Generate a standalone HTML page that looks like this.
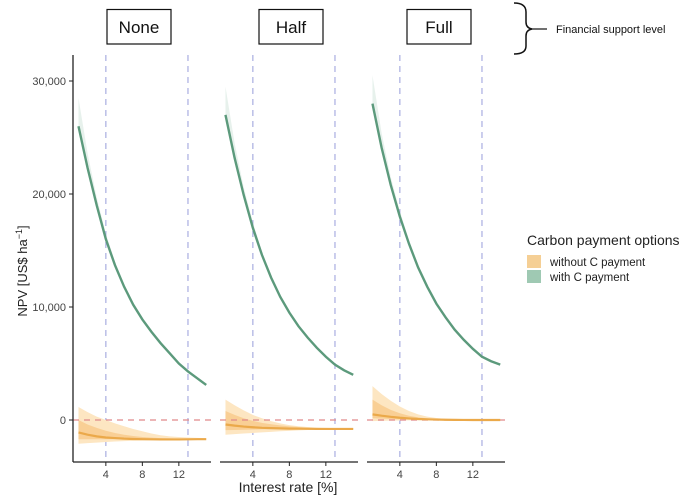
<!DOCTYPE html>
<html><head><meta charset="utf-8"><style>
body{margin:0;background:#fff;font-family:"Liberation Sans",sans-serif;}
svg{display:block}
</style></head><body>
<svg id="chart" width="700" height="502" xmlns="http://www.w3.org/2000/svg">
<g id="strips"></g>
<g id="plot"></g>
<g id="axes"></g>
<g><text transform="translate(27,271) rotate(-90)" text-anchor="middle" font-size="13" fill="#222">NPV [US$ ha<tspan font-size="9" dy="-5">−1</tspan><tspan dy="5">]</tspan></text></g>
<text x="288" y="492" text-anchor="middle" font-size="14" fill="#222">Interest rate [%]</text>
<g>
<text x="527" y="245" font-size="14" fill="#222">Carbon payment options</text>
<rect x="527" y="255" width="14" height="13" fill="#f5cf95"/>
<text x="550" y="266" font-size="11.5" fill="#222">without C payment</text>
<rect x="527" y="270" width="14" height="13" fill="#9fc9b3"/>
<text x="550" y="281" font-size="11.5" fill="#222">with C payment</text>
</g>
<g>
<path d="M514,3 Q526,3 526,12 L526,22 Q526,28 532,29 Q526,30 526,36 L526,46 Q526,54 514,54" fill="none" stroke="#111" stroke-width="1.5"/>
<line x1="532" y1="29" x2="547" y2="29" stroke="#111" stroke-width="1.2"/>
<text x="556" y="33" font-size="11" fill="#111">Financial support level</text>
</g>
</svg>
<script>
const panels = ["None","Half","Full"];
const rates = [1,2,3,4,5,6,7,8,9,10,11,12,13,14,15];
const withC = [
 [26000,22300,19000,16000,13700,11800,10200,8900,7800,6800,5900,5000,4300,3700,3100],
 [27000,23200,19900,17000,14600,12600,10900,9500,8300,7300,6400,5600,4900,4400,4000],
 [28000,24100,20800,18000,15600,13500,11800,10300,9100,8000,7100,6300,5600,5200,4900]
];
const withoutC = [
 [-1100,-1300,-1450,-1550,-1600,-1650,-1680,-1700,-1710,-1720,-1720,-1720,-1710,-1700,-1700],
 [-400,-500,-580,-640,-690,-720,-740,-760,-770,-780,-790,-790,-790,-790,-790],
 [500,380,280,200,140,90,60,40,20,10,5,0,0,0,0]
];
const outerUp = [
 [1150,700,300,0,-300,-550,-800,-1000,-1200,-1350,-1450,-1500,-1550,-1580,-1600],
 [1800,1300,850,450,150,-100,-300,-450,-550,-620,-670,-700,-720,-730,-740],
 [3000,2300,1700,1200,800,500,300,180,100,60,40,30,20,15,10]
];
const outerLo = [
 [-2100,-2050,-2000,-1950,-1900,-1870,-1840,-1810,-1790,-1770,-1760,-1750,-1740,-1730,-1720],
 [-1300,-1250,-1200,-1150,-1100,-1050,-1000,-960,-920,-890,-860,-840,-820,-810,-800],
 [-100,-80,-60,-40,-30,-20,-15,-10,-8,-5,-4,-3,-2,-1,-1]
];
const innerUp = [
 [0,-400,-700,-950,-1150,-1300,-1420,-1500,-1560,-1600,-1630,-1650,-1660,-1670,-1680],
 [800,450,150,-80,-250,-380,-480,-560,-620,-670,-700,-720,-740,-750,-760],
 [1800,1300,900,600,380,230,140,80,50,30,20,10,5,3,2]
];
const innerLo = [
 [-1700,-1700,-1700,-1700,-1700,-1700,-1700,-1710,-1720,-1720,-1720,-1720,-1720,-1710,-1710],
 [-900,-880,-860,-840,-820,-810,-800,-800,-800,-800,-800,-795,-795,-795,-795],
 [150,120,90,60,40,25,15,10,5,3,2,1,0,0,0]
];
const greenUp = [
 [28500,23600,19700,16500,14000,12000,10350,9000,7850,6850,5950,5050,4350,3750,3150],
 [29500,24500,20600,17500,14900,12800,11050,9600,8400,7350,6450,5650,4950,4450,4050],
 [30500,25400,21500,18500,15900,13700,11950,10400,9200,8050,7150,6350,5650,5250,4950]
];
const yTicks = [0,10000,20000,30000];
const yTickLabels = ["0","10,000","20,000","30,000"];
const xTicks = [4,8,12];
const vLines = [4,13];

const NS="http://www.w3.org/2000/svg";
const panelLeft=[73,220,367], panelW=138;
const stripCenter=[139,291,439];
function xs(p,r){return panelLeft[p]+ (r-0.4)*9.125;}
function ys(v){return 420 - v*0.0113;}
function mk(tag,attrs,parent){const e=document.createElementNS(NS,tag);for(const k in attrs)e.setAttribute(k,attrs[k]);parent.appendChild(e);return e;}
const plot=document.getElementById('plot'),axes=document.getElementById('axes'),strips=document.getElementById('strips');
function band(p,up,lo){let d="";rates.forEach((r,i)=>{d+=(i?"L":"M")+xs(p,r)+","+ys(up[i]);});for(let i=rates.length-1;i>=0;i--)d+="L"+xs(p,rates[i])+","+ys(lo[i]);return d+"Z";}
function line(p,v){return rates.map((r,i)=>(i?"L":"M")+xs(p,r)+","+ys(v[i])).join("");}
panels.forEach((name,p)=>{
  const sg=mk('g',{},strips);
  
  
  const cx=stripCenter[p];
  mk('rect',{x:cx-32,y:9.5,width:64,height:34.5,fill:'#fff',stroke:'#111','stroke-width':1.2},sg);
  const t=mk('text',{x:cx,y:33,'text-anchor':'middle','font-size':17,fill:'#111'},sg);t.textContent=name;
  const g=mk('g',{},plot);
  
  
  vLines.forEach(v=>{const l=mk('line',{x1:xs(p,v),x2:xs(p,v),y1:55,y2:462,stroke:'#a9aee0','stroke-width':1.2,'stroke-dasharray':'6,5'},g);});
  const gb=mk('path',{d:band(p,greenUp[p],withC[p]),fill:'#9fc9b3',opacity:0.25},g);
  
  const ob=mk('path',{d:band(p,outerUp[p],outerLo[p]),fill:'#fde6c2'},g);
  
  const ib=mk('path',{d:band(p,innerUp[p],innerLo[p]),fill:'#f7c98a',opacity:0.8},g);
  
  const zl=mk('line',{x1:panelLeft[p],x2:panelLeft[p]+panelW,y1:ys(0),y2:ys(0),stroke:'#e0898a','stroke-width':1.2,'stroke-dasharray':'6,5'},g);
  
  const ol=mk('path',{d:line(p,withoutC[p]),fill:'none',stroke:'#eba94a','stroke-width':2.2},g);
  
  const gl=mk('path',{d:line(p,withC[p]),fill:'none',stroke:'#5c9a7c','stroke-width':2.4},g);
  
  const ax=mk('line',{x1:panelLeft[p],x2:panelLeft[p]+panelW,y1:462,y2:462,stroke:'#222','stroke-width':1.3},axes);
  
  xTicks.forEach(v=>{
    mk('line',{x1:xs(p,v),x2:xs(p,v),y1:462,y2:466,stroke:'#222'},axes);
    const tt=mk('text',{x:xs(p,v),y:478,'text-anchor':'middle','font-size':11,fill:'#444'},axes);
    
    tt.textContent=v;
  });
});
const ya=mk('line',{x1:73,x2:73,y1:55,y2:462,stroke:'#222','stroke-width':1.3},axes);

yTicks.forEach((v,i)=>{
  mk('line',{x1:69,x2:73,y1:ys(v),y2:ys(v),stroke:'#222'},axes);
  const t=mk('text',{x:66,y:ys(v)+4,'text-anchor':'end','font-size':11,fill:'#444'},axes);
  
  t.textContent=yTickLabels[i];
});
</script>
</body></html>
